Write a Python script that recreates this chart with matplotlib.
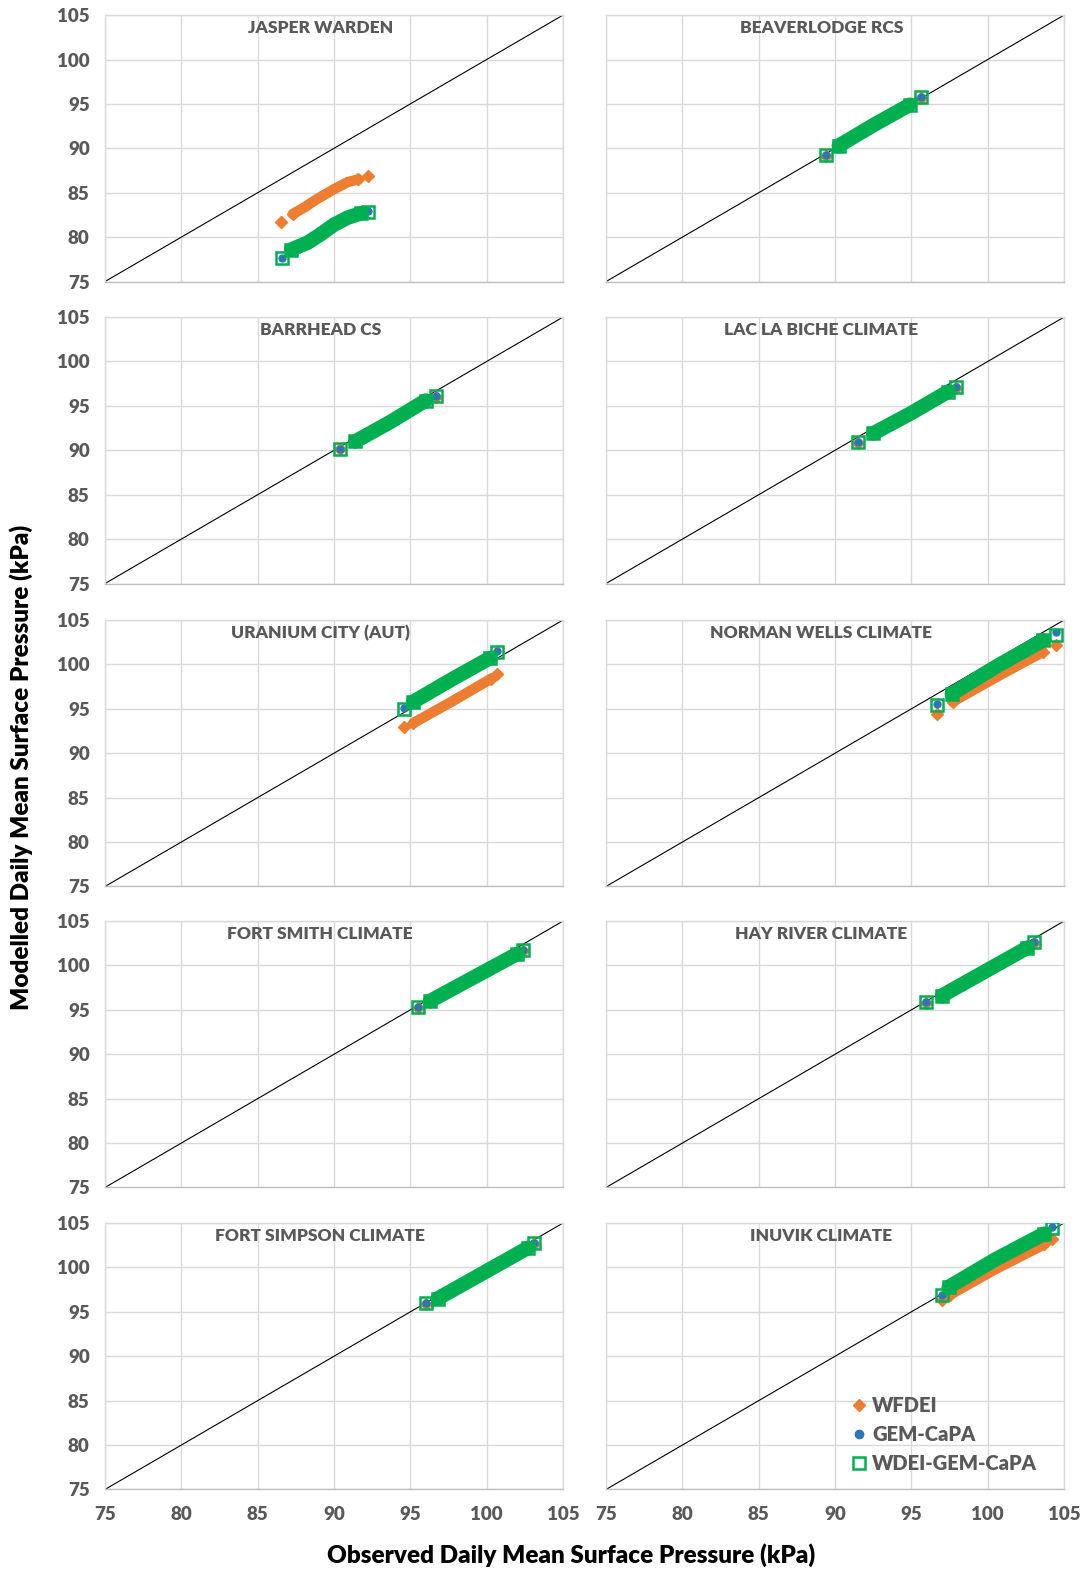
import matplotlib.pyplot as plt
from matplotlib.lines import Line2D

plt.rcParams['font.family'] = ['Lato', 'DejaVu Sans']
plt.rcParams['font.weight'] = 'heavy'

# station panels, read left-to-right, top-to-bottom
stations = ["JASPER WARDEN", "BEAVERLODGE RCS", "BARRHEAD CS", "LAC LA BICHE CLIMATE",
            "URANIUM CITY (AUT)", "NORMAN WELLS CLIMATE", "FORT SMITH CLIMATE",
            "HAY RIVER CLIMATE", "FORT SIMPSON CLIMATE", "INUVIK CLIMATE"]

ticks = [75, 80, 85, 90, 95, 100, 105]

# sorted observed vs sorted modelled pressure (kPa): [min, band start, ..., band end, max]
wfdei_x = [[86.5, 87.3, 88.1, 88.9, 90.0, 90.9, 91.6, 92.2],
           [89.4, 90.25, 92.5, 94.9, 95.6],
           [90.4, 91.4, 93.7, 96.0, 96.7],
           [91.5, 92.5, 95.0, 97.4, 97.9],
           [94.6, 95.2, 97.7, 100.3, 100.7],
           [96.7, 97.7, 100.7, 103.6, 104.5],
           [95.5, 96.3, 99.2, 102.0, 102.35],
           [95.95, 97.0, 99.8, 102.6, 103.0],
           [96.0, 96.8, 99.7, 102.7, 103.1],
           [97.0, 97.5, 100.5, 103.7, 104.2]]
wfdei_y = [[81.7, 82.6, 83.4, 84.3, 85.4, 86.2, 86.5, 86.9],
           [89.15, 90.2, 92.5, 94.8, 95.7],
           [90.1, 90.9, 93.1, 95.5, 96.0],
           [90.8, 91.8, 94.1, 96.5, 97.0],
           [92.9, 93.4, 95.8, 98.4, 98.9],
           [94.4, 95.8, 98.7, 101.4, 102.15],
           [95.2, 95.9, 98.6, 101.2, 101.6],
           [95.8, 96.5, 99.2, 101.9, 102.5],
           [95.9, 96.4, 99.2, 102.1, 102.6],
           [96.3, 96.9, 99.8, 102.6, 103.2]]

gem_x = [[86.6, 87.2, 88.3, 89.1, 90.0, 90.9, 91.8, 92.2],
         [89.4, 90.25, 92.5, 94.9, 95.6],
         [90.4, 91.4, 93.7, 96.0, 96.7],
         [91.5, 92.5, 95.0, 97.4, 97.9],
         [94.6, 95.2, 97.7, 100.2, 100.7],
         [96.7, 97.65, 100.6, 103.6, 104.5],
         [95.5, 96.3, 99.2, 102.0, 102.35],
         [95.95, 97.0, 99.8, 102.6, 103.0],
         [96.0, 96.8, 99.7, 102.7, 103.1],
         [97.0, 97.45, 100.5, 103.7, 104.2]]
gem_y = [[77.7, 78.6, 79.4, 80.3, 81.4, 82.2, 82.7, 82.9],
         [89.25, 90.3, 92.6, 94.9, 95.8],
         [90.2, 91.0, 93.2, 95.6, 96.1],
         [90.9, 91.9, 94.2, 96.6, 97.1],
         [95.1, 95.8, 98.3, 100.7, 101.5],
         [95.5, 96.6, 99.7, 102.7, 103.7],
         [95.3, 96.0, 98.7, 101.3, 101.7],
         [95.9, 96.6, 99.3, 102.0, 102.6],
         [96.0, 96.5, 99.3, 102.2, 102.7],
         [96.9, 97.8, 100.8, 103.7, 104.5]]

wdei_x = [[86.6, 87.2, 88.3, 89.1, 90.0, 90.9, 91.8, 92.2],
          [89.4, 90.25, 92.5, 94.9, 95.6],
          [90.4, 91.4, 93.7, 96.0, 96.7],
          [91.5, 92.5, 95.0, 97.4, 97.9],
          [94.6, 95.2, 97.7, 100.2, 100.7],
          [96.7, 97.65, 100.6, 103.6, 104.5],
          [95.5, 96.3, 99.2, 102.0, 102.35],
          [95.95, 97.0, 99.8, 102.6, 103.0],
          [96.0, 96.8, 99.7, 102.7, 103.1],
          [97.0, 97.45, 100.5, 103.7, 104.2]]
wdei_y = [[77.7, 78.6, 79.4, 80.3, 81.4, 82.2, 82.7, 82.8],
          [89.25, 90.3, 92.6, 94.9, 95.8],
          [90.2, 91.0, 93.2, 95.6, 96.1],
          [90.9, 91.9, 94.2, 96.6, 97.1],
          [95.0, 95.8, 98.3, 100.7, 101.4],
          [95.4, 96.7, 99.8, 102.7, 103.3],
          [95.3, 96.0, 98.7, 101.3, 101.7],
          [95.9, 96.6, 99.3, 102.0, 102.6],
          [96.0, 96.5, 99.3, 102.2, 102.7],
          [96.9, 97.8, 100.9, 103.8, 104.4]]

orange = '#ED7D31'
blue = '#2E75B6'
green = '#00B050'
grey = '#595959'
gridc = '#d9d9d9'

fig = plt.figure(figsize=(10.89, 15.72), dpi=100)

lefts = [0.0964, 0.5565]
bottoms = [0.8209, 0.6288, 0.4361, 0.2446, 0.0525]
w, h = 0.4206, 0.1695


def draw_series(ax, xs, ys, color, marker, ms, lw, face, mew):
    # dense quantile band as a thick stroke, isolated extremes as markers
    ax.plot(xs[1:-1], ys[1:-1], color=color, lw=lw, solid_capstyle='round', zorder=3)
    ends = [0, 1, len(xs) - 2, len(xs) - 1]
    ax.plot([xs[i] for i in ends], [ys[i] for i in ends], linestyle='none',
            marker=marker, ms=ms, mfc=face, mec=color, mew=mew, zorder=3)


for i, name in enumerate(stations):
    row, col = divmod(i, 2)
    ax = fig.add_axes([lefts[col], bottoms[row], w, h])
    ax.set_xlim(75, 105)
    ax.set_ylim(75, 105)
    ax.set_xticks(ticks)
    ax.set_yticks(ticks)
    ax.grid(True, color=gridc, lw=1)
    ax.set_axisbelow(True)
    for s in ax.spines.values():
        s.set_color(gridc)
        s.set_linewidth(1)
    ax.spines['bottom'].set_color('#bfbfbf')
    ax.tick_params(length=0, labelsize=13.5, labelcolor=grey)
    ax.tick_params(axis='y', pad=11)
    ax.tick_params(axis='x', pad=12)
    if col == 1:
        ax.set_yticklabels([])
    if row < 4:
        ax.set_xticklabels([])

    # 1:1 line
    ax.plot([75, 105], [75, 105], color='black', lw=0.8, zorder=2)

    draw_series(ax, wfdei_x[i], wfdei_y[i], orange, 'D', 6, 7.5, orange, 1)
    draw_series(ax, gem_x[i], gem_y[i], blue, 'o', 5, 6, blue, 1)
    draw_series(ax, wdei_x[i], wdei_y[i], green, 's', 8, 10.5, 'none', 1.8)

    ax.text(0.47, 0.952, name, transform=ax.transAxes, ha='center', va='center',
            fontsize=12.5, color=grey)

    if i == len(stations) - 1:
        handles = [Line2D([], [], linestyle='none', marker='D', ms=6, color=orange),
                   Line2D([], [], linestyle='none', marker='o', ms=6, color=blue),
                   Line2D([], [], linestyle='none', marker='s', ms=8, mfc='none',
                          mec=green, mew=1.8)]
        leg = ax.legend(handles, ['WFDEI', 'GEM-CaPA', 'WDEI-GEM-CaPA'],
                        loc='upper left', bbox_to_anchor=(0.515, 0.39),
                        frameon=False, fontsize=14.5, handlelength=0.7,
                        handletextpad=0.3, labelspacing=0.5, borderpad=0)
        for t in leg.get_texts():
            t.set_color(grey)

fig.text(21 / 1089, 1 - 767 / 1572, 'Modelled Daily Mean Surface Pressure (kPa)',
         rotation=90, ha='center', va='center', fontsize=17.5)
fig.text(571 / 1089, 1 - 1555 / 1572, 'Observed Daily Mean Surface Pressure (kPa)',
         ha='center', va='center', fontsize=17.5)

fig.savefig('out.png', dpi=100)
